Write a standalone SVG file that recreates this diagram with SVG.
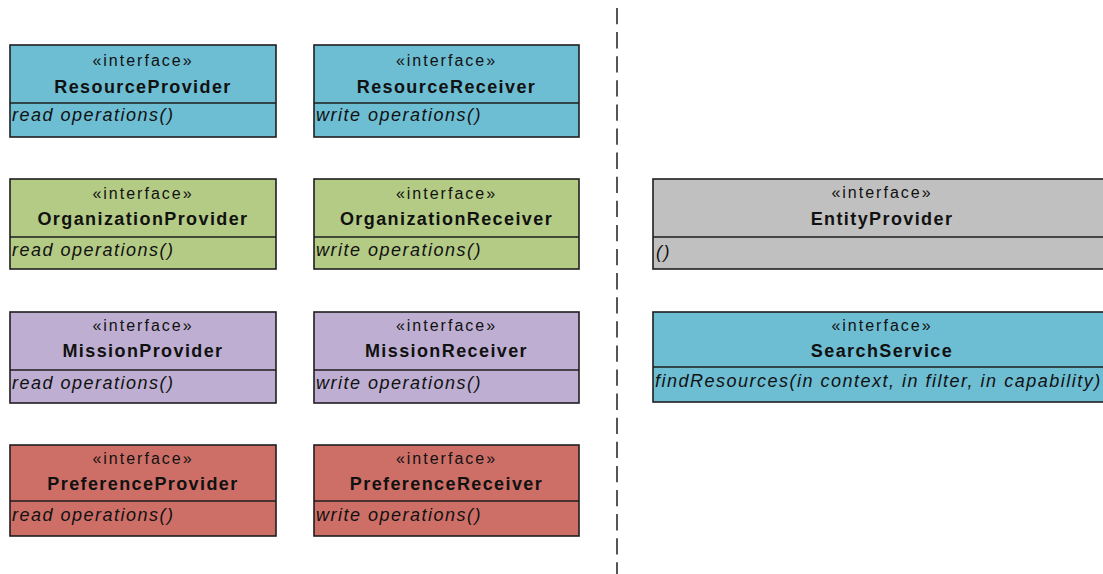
<svg xmlns="http://www.w3.org/2000/svg" width="1103" height="574" viewBox="0 0 1103 574">
  <style>
    .box { stroke: #1e1e1e; stroke-width: 1.6; }
    .sep { stroke: #1e1e1e; stroke-width: 1.6; }
    .blue { fill: #6dbdd3; }
    .green { fill: #b4cb86; }
    .purple { fill: #beafd2; }
    .red { fill: #cd6f67; }
    .gray { fill: #c0c0c0; }
    text { font-family: "Liberation Sans", Arial, sans-serif; fill: #111; }
    .st { font-size: 16px; letter-spacing: 2px; text-anchor: middle; }
    .nm { font-size: 18px; font-weight: bold; letter-spacing: 1.4px; text-anchor: middle; }
    .op { font-size: 18px; font-style: italic; letter-spacing: 1.5px; }
    .divider { stroke: #555; stroke-width: 2; stroke-dasharray: 16.3 7.8; fill: none; }
  </style>

  <!-- package divider -->
  <g id="connectors">
    <line class="divider" x1="617" y1="8" x2="617" y2="574"/>
  </g>

  <!-- row 1 -->
  <g id="ResourceProvider">
    <rect class="box blue" x="10" y="45" width="266" height="92"/>
    <line class="sep" x1="10" y1="103" x2="276" y2="103"/>
    <text class="st" x="143" y="66">«interface»</text>
    <text class="nm" x="143" y="93">ResourceProvider</text>
    <text class="op" x="12" y="121">read operations()</text>
  </g>
  <g id="ResourceReceiver">
    <rect class="box blue" x="314" y="45" width="265" height="92"/>
    <line class="sep" x1="314" y1="103" x2="579" y2="103"/>
    <text class="st" x="446.5" y="66">«interface»</text>
    <text class="nm" x="446.5" y="93">ResourceReceiver</text>
    <text class="op" x="316" y="121">write operations()</text>
  </g>

  <!-- row 2 -->
  <g id="OrganizationProvider">
    <rect class="box green" x="10" y="179" width="266" height="90"/>
    <line class="sep" x1="10" y1="237" x2="276" y2="237"/>
    <text class="st" x="143" y="199">«interface»</text>
    <text class="nm" x="143" y="225">OrganizationProvider</text>
    <text class="op" x="12" y="256">read operations()</text>
  </g>
  <g id="OrganizationReceiver">
    <rect class="box green" x="314" y="179" width="265" height="90"/>
    <line class="sep" x1="314" y1="237" x2="579" y2="237"/>
    <text class="st" x="446.5" y="199">«interface»</text>
    <text class="nm" x="446.5" y="225">OrganizationReceiver</text>
    <text class="op" x="316" y="256">write operations()</text>
  </g>

  <!-- row 3 -->
  <g id="MissionProvider">
    <rect class="box purple" x="10" y="312" width="266" height="91"/>
    <line class="sep" x1="10" y1="370" x2="276" y2="370"/>
    <text class="st" x="143" y="331">«interface»</text>
    <text class="nm" x="143" y="357">MissionProvider</text>
    <text class="op" x="12" y="389">read operations()</text>
  </g>
  <g id="MissionReceiver">
    <rect class="box purple" x="314" y="312" width="265" height="91"/>
    <line class="sep" x1="314" y1="370" x2="579" y2="370"/>
    <text class="st" x="446.5" y="331">«interface»</text>
    <text class="nm" x="446.5" y="357">MissionReceiver</text>
    <text class="op" x="316" y="389">write operations()</text>
  </g>

  <!-- row 4 -->
  <g id="PreferenceProvider">
    <rect class="box red" x="10" y="445" width="266" height="91"/>
    <line class="sep" x1="10" y1="501" x2="276" y2="501"/>
    <text class="st" x="143" y="464">«interface»</text>
    <text class="nm" x="143" y="490">PreferenceProvider</text>
    <text class="op" x="12" y="521">read operations()</text>
  </g>
  <g id="PreferenceReceiver">
    <rect class="box red" x="314" y="445" width="265" height="91"/>
    <line class="sep" x1="314" y1="501" x2="579" y2="501"/>
    <text class="st" x="446.5" y="464">«interface»</text>
    <text class="nm" x="446.5" y="490">PreferenceReceiver</text>
    <text class="op" x="316" y="521">write operations()</text>
  </g>

  <!-- right package -->
  <g id="EntityProvider">
    <rect class="box gray" x="653" y="179" width="460" height="90"/>
    <line class="sep" x1="653" y1="237" x2="1113" y2="237"/>
    <text class="st" x="882" y="198">«interface»</text>
    <text class="nm" x="882" y="225">EntityProvider</text>
    <text class="op" x="656" y="258">()</text>
  </g>
  <g id="SearchService">
    <rect class="box blue" x="653" y="312" width="460" height="90"/>
    <line class="sep" x1="653" y1="367" x2="1113" y2="367"/>
    <text class="st" x="882" y="331">«interface»</text>
    <text class="nm" x="882" y="357">SearchService</text>
    <text class="op" x="655" y="387">findResources(in context, in filter, in capability)</text>
  </g>
</svg>
